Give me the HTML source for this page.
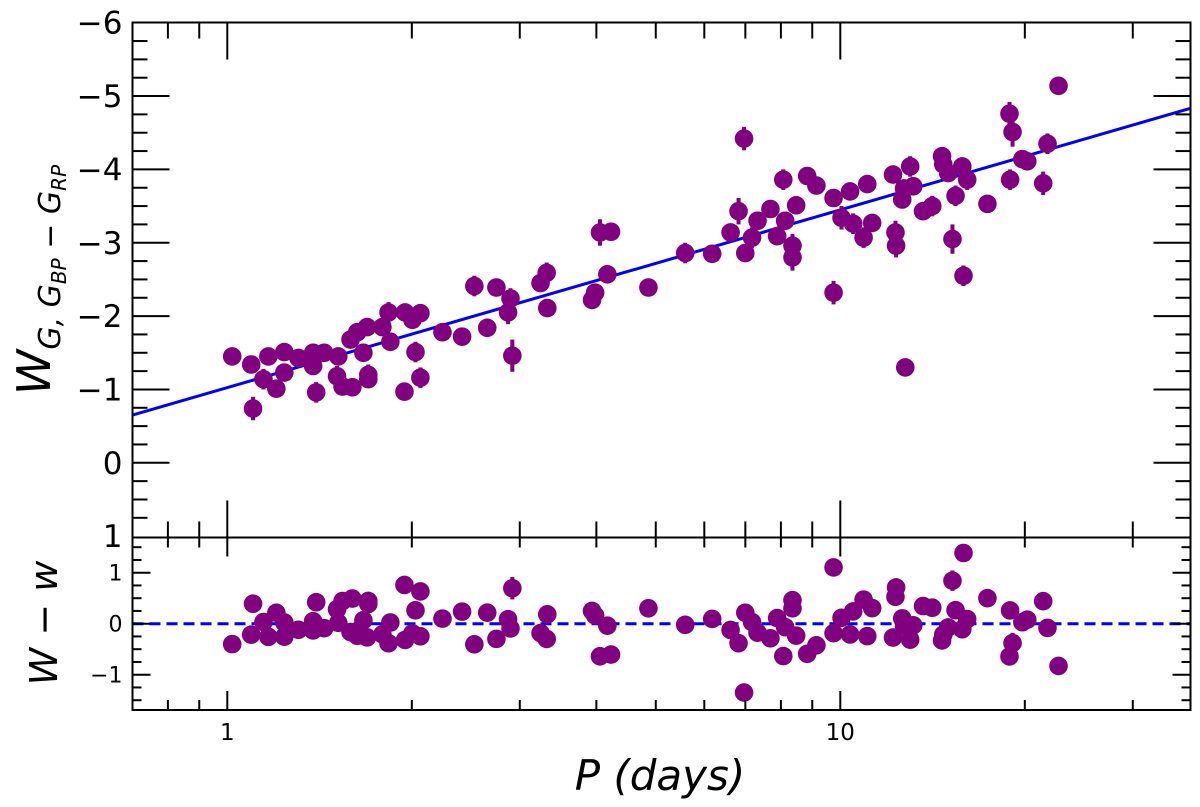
<!DOCTYPE html>
<html><head><meta charset="utf-8"><style>
body{margin:0;background:#fff;}
svg{display:block;font-family:"DejaVu Sans","Liberation Sans",sans-serif;}
</style></head><body>
<svg id="c" width="1200" height="807" viewBox="0 0 1200 807"></svg>
<script>
const logPeriod=[0.008,0.039,0.042,0.067,0.059,0.080,0.093,0.093,0.116,0.140,0.140,0.145,0.158,0.181,0.179,0.188,0.204,0.201,0.212,0.222,0.228,0.230,0.230,0.253,0.263,0.266,0.290,0.302,0.315,0.307,0.289,0.315,0.351,0.383,0.403,0.424,0.439,0.462,0.458,0.465,0.511,0.521,0.522,0.595,0.600,0.620,0.687,0.608,0.626,0.747,0.843,0.791,0.821,0.834,0.845,0.856,0.865,0.886,0.897,0.910,0.922,0.922,0.907,0.928,0.946,0.961,0.989,1.002,1.016,1.021,1.038,1.044,1.052,0.989,1.086,1.090,1.091,1.114,1.104,1.119,1.101,1.135,1.150,1.166,1.168,1.176,1.188,1.183,1.201,1.199,1.207,1.240,1.276,1.281,1.277,1.297,1.305,1.338,1.331,1.356,1.106];
const wesenheit=[-1.45,-1.34,-0.74,-1.45,-1.14,-1.01,-1.51,-1.23,-1.43,-1.50,-1.32,-0.96,-1.50,-1.45,-1.18,-1.04,-1.03,-1.68,-1.78,-1.50,-1.85,-1.20,-1.14,-1.85,-2.05,-1.65,-2.05,-1.95,-2.04,-1.51,-0.97,-1.16,-1.78,-1.72,-2.41,-1.84,-2.39,-2.24,-2.05,-1.46,-2.45,-2.59,-2.11,-2.22,-2.32,-2.57,-2.39,-3.14,-3.15,-2.86,-4.42,-2.85,-3.14,-3.43,-2.86,-3.07,-3.30,-3.46,-3.09,-3.30,-2.96,-2.80,-3.86,-3.51,-3.91,-3.78,-3.61,-3.34,-3.70,-3.26,-3.07,-3.80,-3.27,-2.32,-3.93,-3.14,-2.96,-4.04,-3.74,-3.77,-3.59,-3.43,-3.50,-4.18,-4.07,-3.95,-3.64,-3.05,-2.55,-4.04,-3.86,-3.53,-4.76,-4.51,-3.86,-4.14,-4.11,-4.35,-3.81,-5.14,-1.30];
const wErr=[0.12,0.1,0.16,0.1,0.14,0.1,0.1,0.12,0.08,0.1,0.12,0.14,0.08,0.08,0.14,0.1,0.1,0.1,0.12,0.1,0.1,0.14,0.1,0.1,0.14,0.12,0.12,0.1,0.12,0.14,0.1,0.14,0.08,0.06,0.14,0.06,0.1,0.14,0.16,0.22,0.12,0.14,0.12,0.1,0.1,0.12,0.06,0.18,0.1,0.14,0.16,0.08,0.12,0.18,0.12,0.14,0.12,0.1,0.12,0.1,0.16,0.18,0.14,0.1,0.1,0.1,0.1,0.16,0.12,0.14,0.14,0.08,0.12,0.16,0.1,0.16,0.16,0.14,0.1,0.12,0.12,0.12,0.14,0.1,0.14,0.12,0.14,0.2,0.14,0.1,0.14,0.06,0.16,0.2,0.14,0.12,0.1,0.14,0.16,0.1,0.06];
const fitIntercept=-1.03, fitSlope=-2.42;
const topTicks=[-6,-5,-4,-3,-2,-1,0,1];
const botTicks=[1,0,-1];
const xMajor=[1,10];
const xMinor=[0.8,0.9,2,3,4,5,6,7,8,9,20,30];

const NS='http://www.w3.org/2000/svg', svg=document.getElementById('c');
const L=132.5,R=1190.5,T=22.5,MID=537.5,B=710;
const X=lp=>227.3+613*lp;
const Yt=w=>22.7+(w+6)*73.35;
const Yb=r=>623.7-51*r;
function el(tag,a,parent){const e=document.createElementNS(NS,tag);for(const k in a)e.setAttribute(k,a[k]);(parent||svg).appendChild(e);return e;}
function txt(s,a,parent){const e=el('text',a,parent);e.textContent=s;return e;}
const gTop=el('g',{});


const gBot=el('g',{});



const fl=el('line',{x1:L,y1:Yt(fitIntercept+fitSlope*(-0.157)),x2:R,y2:Yt(fitIntercept+fitSlope*1.5715),stroke:'#0000ff','stroke-width':3},gTop);


const zl=el('line',{x1:L,y1:Yb(0),x2:R,y2:Yb(0),stroke:'#0000ff','stroke-width':3,'stroke-dasharray':'11,6'},gBot);



for(let i=0;i<logPeriod.length;i++){
  const x=X(logPeriod[i]),w=wesenheit[i],e=wErr[i];
  const g=el('g',{},gTop);
  
  
  el('line',{x1:x,x2:x,y1:Yt(w-e),y2:Yt(w+e),stroke:'#800080','stroke-width':4},g);
  el('circle',{cx:x,cy:Yt(w),r:9.3,fill:'#800080'},g);
  const r=w-(fitIntercept+fitSlope*logPeriod[i]);
  if(Math.abs(r)<2){
    const g2=el('g',{},gBot);
    
    
    el('line',{x1:x,x2:x,y1:Yb(r-e),y2:Yb(r+e),stroke:'#800080','stroke-width':4},g2);
    el('circle',{cx:x,cy:Yb(r),r:9.3,fill:'#800080'},g2);
  }
}
const f1=el('rect',{x:L,y:T,width:R-L,height:MID-T,fill:'none',stroke:'#000','stroke-width':2});


const f2=el('rect',{x:L,y:MID,width:R-L,height:B-MID,fill:'none',stroke:'#000','stroke-width':2});


function tk(x1,y1,x2,y2){el('line',{x1,y1,x2,y2,stroke:'#000','stroke-width':2});}
for(let v=-6;v<=1.001;v+=0.25){const y=Yt(v),maj=Math.abs(v-Math.round(v))<1e-6;const len=maj?37:15;
  if(v>-6&&v<1){tk(L,y,L+len,y);tk(R,y,R-len,y);}}
topTicks.forEach(v=>{const t=txt(String(v).replace('-','\u2212'),{x:L-10,y:Yt(v)+11,'font-size':31,'text-anchor':'end'});
  
  });
for(let v=-1.5;v<=1.5;v+=0.25){const y=Yb(v),maj=Math.abs(v-Math.round(v))<1e-6;const len=maj?18:9;tk(L,y,L+len,y);tk(R,y,R-len,y);}
botTicks.forEach(v=>{const t=txt(String(v).replace('-','\u2212'),{x:L-10,y:Yb(v)+8,'font-size':22,'text-anchor':'end'});
  
  });
xMajor.forEach(p=>{const x=X(Math.log10(p));tk(x,T,x,T+37);tk(x,MID,x,MID-37);tk(x,MID,x,MID+19);tk(x,B,x,B-19);
  const t=txt(String(p),{x:x,y:B+30,'font-size':23,'text-anchor':'middle'});
  
  });
xMinor.forEach(p=>{const x=X(Math.log10(p));tk(x,T,x,T+16);tk(x,MID,x,MID-16);tk(x,MID,x,MID+10);tk(x,B,x,B-10);});
const yt=el('text',{transform:'translate(50,280) rotate(-90)','font-size':46,'text-anchor':'middle','font-style':'italic'});


yt.innerHTML='W<tspan font-size="30" dy="10">G, G</tspan><tspan font-size="20" dy="6">BP</tspan><tspan font-size="30" dy="-6"> \u2212 G</tspan><tspan font-size="20" dy="6">RP</tspan>';
const yb=txt('W \u2212 w',{transform:'translate(57,623) rotate(-90)','font-size':38,'text-anchor':'middle','font-style':'italic'});


const xt=txt('P (days)',{x:660,y:790,'font-size':42,'text-anchor':'middle','font-style':'italic'});


</script>
</body></html>
